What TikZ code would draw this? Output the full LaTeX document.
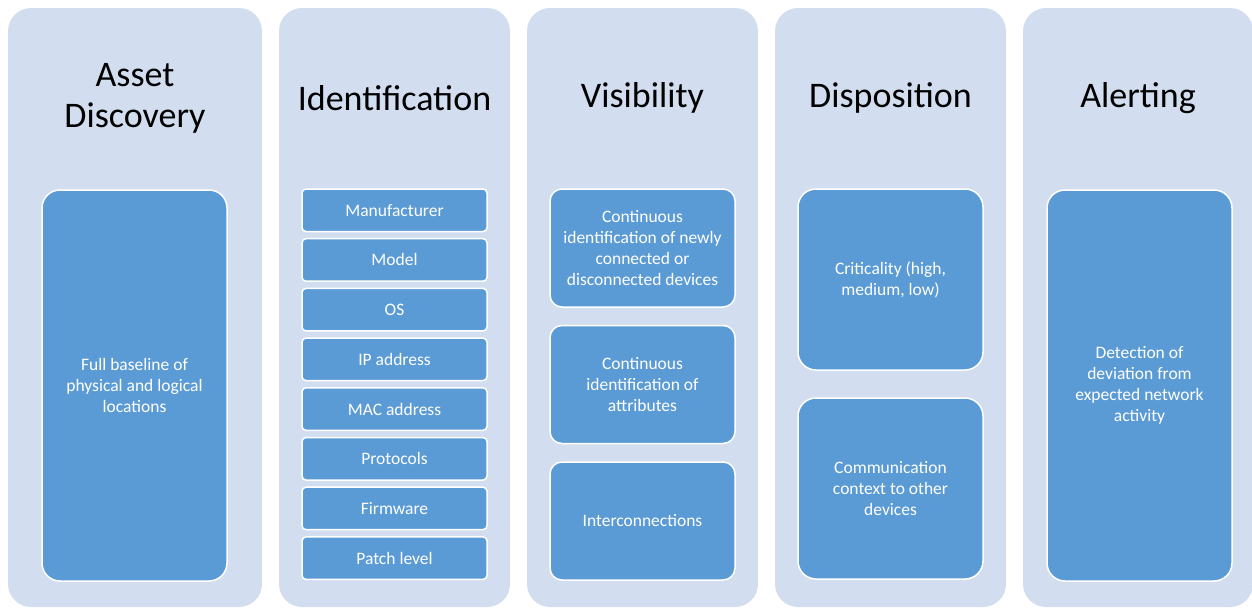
\documentclass[tikz,border=0pt]{standalone}
\usepackage{fontspec}
\setmainfont{Carlito}
\usetikzlibrary{positioning}

\definecolor{colbg}{HTML}{D2DEEF}
\definecolor{itembg}{HTML}{5B9BD5}

\tikzset{
  column/.style={fill=colbg, rounded corners=23pt, minimum height=599pt, inner sep=0pt},
  title/.style={font=\fontsize{36}{41}\selectfont, align=center},
  item/.style={fill=itembg, draw=white, line width=1.5pt, text=white, align=center,
    font=\fontsize{17.5}{21}\selectfont, inner sep=0pt, outer sep=0pt, minimum width=185pt},
}

\begin{document}
\begin{tikzpicture}[x=1pt,y=1pt]
\useasboundingbox (0,0) rectangle (1252,-608);
% columns
\path (135,-307.5) node[column,minimum width=254pt] (disc) {}
(394.5,-307.5) node[column,minimum width=231pt] (ident) {}
(642.5,-307.5) node[column,minimum width=231pt] (vis) {}
(890.5,-307.5) node[column,minimum width=231pt] (disp) {}
(1138,-307.5) node[column,minimum width=230pt] (alert) {};
% titles
\path (135,-98) node[title] (discT) {Asset\\Discovery}
(394.5,-98) node[title] (identT) {Identification}
(642.5,-98) node[title] (visT) {Visibility}
(890.5,-98) node[title] (dispT) {Disposition}
(1138,-98) node[title] (alertT) {Alerting};
% asset discovery
\node[item,rounded corners=18pt,minimum height=391pt] (base) at (134.5,-385.5)
  {Full baseline of\\physical and logical\\locations};
% identification
\node[item,rounded corners=4pt,minimum height=42.5pt] (manu) at (394.5,-210.25) {Manufacturer};
\node[item,rounded corners=4pt,minimum height=42.5pt,below=7.2pt of manu] (model) {Model};
\node[item,rounded corners=4pt,minimum height=42.5pt,below=7.2pt of model] (os) {OS};
\node[item,rounded corners=4pt,minimum height=42.5pt,below=7.2pt of os] (ip) {IP address};
\node[item,rounded corners=4pt,minimum height=42.5pt,below=7.2pt of ip] (mac) {MAC address};
\node[item,rounded corners=4pt,minimum height=42.5pt,below=7.2pt of mac] (proto) {Protocols};
\node[item,rounded corners=4pt,minimum height=42.5pt,below=7.2pt of proto] (firm) {Firmware};
\node[item,rounded corners=4pt,minimum height=42.5pt,below=7.2pt of firm] (patch) {Patch level};
% visibility
\node[item,rounded corners=12pt,minimum height=118pt] (newdev) at (642.5,-248)
  {Continuous\\identification of newly\\connected or\\disconnected devices};
\node[item,rounded corners=12pt,minimum height=118pt,below=18.5pt of newdev] (attr)
  {Continuous\\identification of\\attributes};
\node[item,rounded corners=12pt,minimum height=118pt,below=18.5pt of attr] (inter)
  {Interconnections};
% disposition
\node[item,rounded corners=18pt,minimum height=181pt] (crit) at (890.5,-279.5)
  {Criticality (high,\\medium, low)};
\node[item,rounded corners=18pt,minimum height=181pt,below=28pt of crit] (comm)
  {Communication\\context to other\\devices};
% alerting
\node[item,rounded corners=18pt,minimum height=391pt] (detect) at (1139.5,-385.5)
  {Detection of\\deviation from\\expected network\\activity};
\end{tikzpicture}
\end{document}
